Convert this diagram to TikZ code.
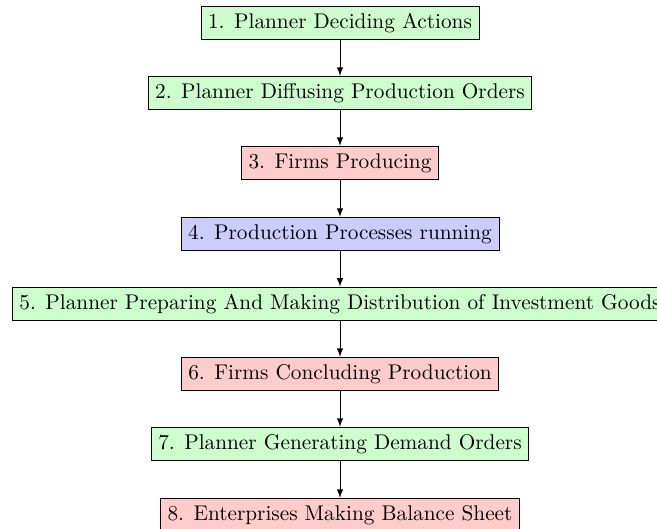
\documentclass[tikz,border=0pt]{standalone}
\usetikzlibrary{arrows}
\begin{document}
\begin{tikzpicture}[x=0.47pt,y=-0.47pt,
  box/.style={draw=black,rectangle,inner sep=3.33pt,font=\normalsize},
  gbox/.style={box,fill=green!20},
  rbox/.style={box,fill=red!20},
  bbox/.style={box,fill=blue!20},
  conn/.style={-latex,thin}]
\useasboundingbox (0,0) rectangle (657,529);
\node[gbox] (n1) at (340,23) {1. Planner Deciding Actions};
\node[gbox] (n2) at (340,93) {2. Planner Diffusing Production Orders};
\node[rbox] (n3) at (340,163) {3. Firms Producing};
\node[bbox] (n4) at (340,234) {4. Production Processes running};
\node[gbox] (n5) at (340,304) {5. Planner Preparing And Making Distribution of Investment Goods};
\node[rbox] (n6) at (340,374) {6. Firms Concluding Production};
\node[gbox] (n7) at (340,444) {7. Planner Generating Demand Orders};
\node[rbox] (n8) at (340,515) {8. Enterprises Making Balance Sheet};
\foreach \a/\b in {n1/n2,n2/n3,n3/n4,n4/n5,n5/n6,n6/n7,n7/n8}
  \draw[conn] (\a) -- (\b);
\end{tikzpicture}
\end{document}
